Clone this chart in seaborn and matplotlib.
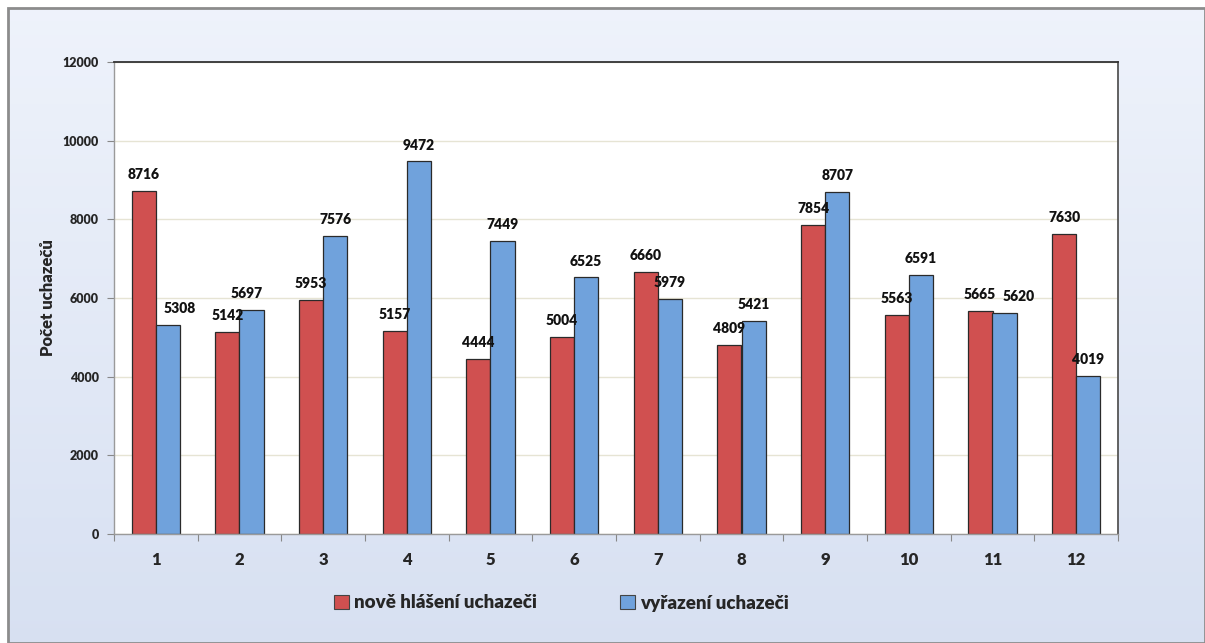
import numpy as np
import pandas as pd
import matplotlib.pyplot as plt
import seaborn as sns
from matplotlib.patches import Rectangle

# --- data ---
months = ['1', '2', '3', '4', '5', '6', '7', '8', '9', '10', '11', '12']
nove = [8716, 5142, 5953, 5157, 4444, 5004, 6660, 4809, 7854, 5563, 5665, 7630]
vyrazeni = [5308, 5697, 7576, 9472, 7449, 6525, 5979, 5421, 8707, 6591, 5620, 4019]
series_names = ['nově hlášení uchazeči', 'vyřazení uchazeči']
y_ticks = [0, 2000, 4000, 6000, 8000, 10000, 12000]

df = pd.DataFrame({
    'mesic': months * 2,
    'pocet': nove + vyrazeni,
    'serie': [series_names[0]] * len(months) + [series_names[1]] * len(months),
})

sns.set_theme(style='white')
plt.rcParams['font.family'] = ['Lato', 'DejaVu Sans']
W = 'heavy'

fig = plt.figure(figsize=(12.05, 6.43), dpi=100)
fig.patch.set_facecolor('white')

# gradient frame behind the chart
bg = fig.add_axes([8 / 1205, 0, 1 - 8 / 1205, 1 - 8 / 643], zorder=-2)
grad = np.linspace(0, 1, 256).reshape(-1, 1)
top_c = np.array([0.935, 0.952, 0.985])
bot_c = np.array([0.845, 0.88, 0.948])
img = top_c[None, None, :] * (1 - grad[:, :, None]) + bot_c[None, None, :] * grad[:, :, None]
bg.imshow(img, aspect='auto', extent=[0, 1, 0, 1], origin='upper')
bg.set_xlim(0, 1)
bg.set_ylim(0, 1)
bg.axis('off')
bg.add_patch(Rectangle((0, 0), 1, 1, transform=bg.transAxes, fill=False,
                       edgecolor='#8c8c8c', linewidth=2.0, clip_on=False))

ax = fig.add_axes([114 / 1205, 1 - 534 / 643, (1118 - 114) / 1205, (534 - 62) / 643])
ax.set_facecolor('white')

colors = ['#d05050', '#70a2dc']
sns.barplot(data=df, x='mesic', y='pocet', hue='serie', palette=colors, saturation=1,
            width=0.575, edgecolor='#2a2a2a', linewidth=0.9, ax=ax, legend=False)

# value labels; a few nudged sideways like in the original to avoid collisions
nudge = {(1, 0): 12, (1, 1): -5, (1, 10): 14, (0, 10): -1}
for si, cont in enumerate(ax.containers):
    texts = ax.bar_label(cont, padding=7, fontsize=10, fontweight=W, color='#111111')
    for mi, t in enumerate(texts):
        dx = nudge.get((si, mi), 0)
        if dx:
            t.xyann = (t.xyann[0] + dx * 0.72, t.xyann[1])

ax.set_ylim(0, 12000)
ax.set_yticks(y_ticks)
ax.set_yticklabels([str(v) for v in y_ticks], fontsize=9, fontweight=W)
ax.yaxis.grid(True, color='#e6e4d4', linewidth=1.0)
ax.set_axisbelow(True)
ax.tick_params(axis='y', length=5, width=0.8, color='#888888', direction='out', left=True, pad=6)

ax.set_xlim(-0.5, 11.5)
ax.set_xticks(range(len(months)))
ax.set_xticklabels(months, fontsize=12, fontweight=W)
ax.set_xticks(np.arange(-0.5, 12, 1), minor=True)
ax.tick_params(axis='x', which='major', length=0, pad=13)
ax.tick_params(axis='x', which='minor', length=5, width=0.8, color='#888888', direction='out', bottom=True)

ax.set_xlabel('')
ax.set_ylabel('Počet uchazečů', fontsize=12, fontweight=W, labelpad=5)

for side in ['left', 'bottom']:
    ax.spines[side].set_color('#9a9a9a')
    ax.spines[side].set_linewidth(1.0)
ax.spines['top'].set_color('#333333')
ax.spines['top'].set_linewidth(1.3)
ax.spines['right'].set_color('#555555')
ax.spines['right'].set_linewidth(1.3)

handles = [Rectangle((0, 0), 1, 1, facecolor=c, edgecolor='#444444', linewidth=0.8) for c in colors]
fig.legend(handles, series_names, loc='center', bbox_to_anchor=(0.466, 1 - 603 / 643),
           ncol=2, frameon=False, handlelength=0.8, handleheight=0.8, handletextpad=0.3,
           columnspacing=4.4, prop={'size': 13.5, 'weight': W})

plt.savefig('out.png', dpi=100)
